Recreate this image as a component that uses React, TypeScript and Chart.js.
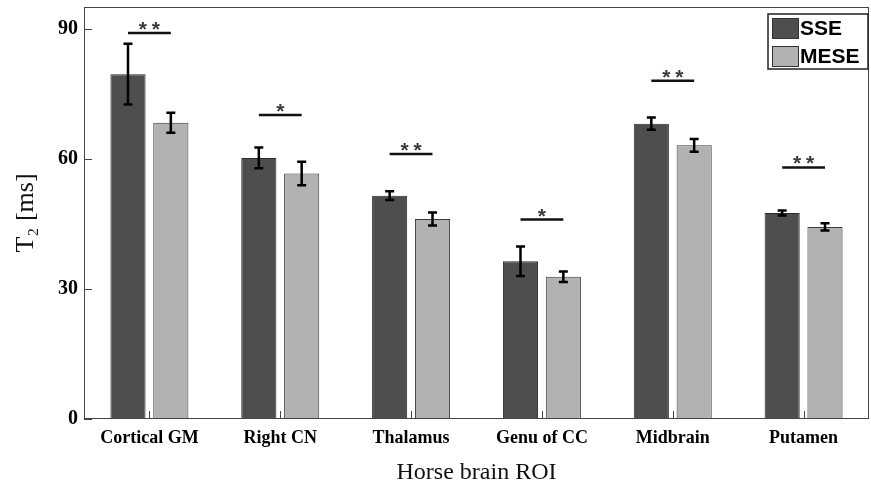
import React, { useEffect, useRef } from "react";
import { Chart, registerables } from "chart.js";

Chart.register(...registerables);

const categories = ["Cortical GM", "Right CN", "Thalamus", "Genu of CC", "Midbrain", "Putamen"];
const sseValues = [79.5, 60.2, 51.5, 36.4, 68.1, 47.5];
const sseErrors = [7.0, 2.4, 1.0, 3.4, 1.4, 0.55];
const meseValues = [68.3, 56.6, 46.1, 32.8, 63.1, 44.3];
const meseErrors = [2.3, 2.7, 1.5, 1.2, 1.45, 0.85];
const sigHeights = [89.0, 70.1, 61.1, 46.0, 78.0, 58.0];
const sigStars = [2, 1, 2, 1, 2, 2];
const yTicks = [0, 30, 60, 90];
const seriesNames = ["SSE", "MESE"];
const seriesColors = ["#4e4e4e", "#b2b2b2"];

const errors = [sseErrors, meseErrors];

const overlayPlugin = {
  id: "overlay",
  afterDatasetsDraw(chart: any) {
    const ctx = chart.ctx;
    const y = chart.scales.y;
    ctx.save();
    // error bars
    chart.data.datasets.forEach((ds: any, d: number) => {
      const meta = chart.getDatasetMeta(d);
      meta.data.forEach((bar: any, i: number) => {
        const v = ds.data[i];
        const e = errors[d][i];
        const yt = y.getPixelForValue(v + e);
        const yb = y.getPixelForValue(v - e);
        ctx.strokeStyle = "#000";
        ctx.lineWidth = 2.5;
        ctx.beginPath();
        ctx.moveTo(bar.x, yt);
        ctx.lineTo(bar.x, yb);
        ctx.moveTo(bar.x - 4.5, yt);
        ctx.lineTo(bar.x + 4.5, yt);
        ctx.moveTo(bar.x - 4.5, yb);
        ctx.lineTo(bar.x + 4.5, yb);
        ctx.stroke();
      });
    });
    // significance lines
    const m0 = chart.getDatasetMeta(0);
    const m1 = chart.getDatasetMeta(1);
    sigHeights.forEach((h, i) => {
      const x1 = m0.data[i].x;
      const x2 = m1.data[i].x;
      const py = y.getPixelForValue(h);
      ctx.strokeStyle = "#111";
      ctx.lineWidth = 2.5;
      ctx.beginPath();
      ctx.moveTo(x1, py);
      ctx.lineTo(x2, py);
      ctx.stroke();
      ctx.fillStyle = "#3a3a3a";
      ctx.font = "bold 21px 'Liberation Sans'";
      ctx.textAlign = "center";
      ctx.textBaseline = "alphabetic";
      const cx = (x1 + x2) / 2;
      const offs = sigStars[i] === 2 ? [-6.5, 6.5] : [0];
      offs.forEach((o) => ctx.fillText("*", cx + o, py + 3));
    });
    ctx.restore();
  },
  afterDraw(chart: any) {
    const ctx = chart.ctx;
    const y = chart.scales.y;
    const x = chart.scales.x;
    const a = chart.chartArea;
    ctx.save();
    // frame
    ctx.strokeStyle = "#444";
    ctx.lineWidth = 1;
    ctx.strokeRect(Math.round(a.left) + 0.5, Math.round(a.top) + 0.5, Math.round(a.right - a.left) - 1, Math.round(a.bottom - a.top) - 1);
    // inward ticks
    ctx.beginPath();
    yTicks.forEach((t) => {
      const py = Math.round(y.getPixelForValue(t)) + 0.5;
      ctx.moveTo(a.left, py);
      ctx.lineTo(a.left + 8, py);
    });
    categories.forEach((_, i) => {
      const px = Math.round(x.getPixelForValue(i)) + 0.5;
      ctx.moveTo(px, a.bottom);
      ctx.lineTo(px, a.bottom - 8);
    });
    ctx.stroke();
    // legend
    const lw = 100;
    const lh = 55;
    const lx = a.right - 1 - lw;
    const ly = a.top + 7;
    ctx.fillStyle = "#fff";
    ctx.fillRect(lx, ly, lw, lh);
    ctx.strokeStyle = "#222";
    ctx.lineWidth = 1.5;
    ctx.strokeRect(lx, ly, lw, lh);
    seriesNames.forEach((name, k) => {
      const sy = ly + 4 + k * 28;
      ctx.fillStyle = seriesColors[k];
      ctx.fillRect(lx + 4, sy, 26, 20);
      ctx.strokeStyle = "#333";
      ctx.lineWidth = 1;
      ctx.strokeRect(lx + 4.5, sy + 0.5, 26, 20);
      ctx.fillStyle = "#000";
      ctx.font = "bold 21px 'Liberation Sans Narrow', 'Liberation Sans'";
      ctx.textAlign = "left";
      ctx.textBaseline = "middle";
      ctx.fillText(name, lx + 32, sy + 11);
    });
    ctx.restore();
  },
};

export default function App() {
  const ref = useRef<HTMLCanvasElement>(null);
  useEffect(() => {
    if (!ref.current) return;
    const chart = new Chart(ref.current, {
      type: "bar",
      data: {
        labels: categories,
        datasets: [
          {
            label: seriesNames[0],
            data: sseValues,
            backgroundColor: seriesColors[0],
            borderColor: "#2a2a2a",
            borderWidth: 1,
            categoryPercentage: 0.655,
            barPercentage: 0.82,
          },
          {
            label: seriesNames[1],
            data: meseValues,
            backgroundColor: seriesColors[1],
            borderColor: "#3a3a3a",
            borderWidth: 1,
            categoryPercentage: 0.655,
            barPercentage: 0.82,
          },
        ],
      },
      options: {
        animation: false,
        responsive: true,
        maintainAspectRatio: false,
        layout: { padding: { left: 0, right: 2, top: 7, bottom: 0 } },
        plugins: {
          legend: { display: false },
          tooltip: { enabled: false },
        },
        scales: {
          x: {
            grid: { display: false, drawTicks: false },
            border: { display: false },
            ticks: {
              color: "#000",
              padding: 9,
              maxRotation: 0,
              font: { family: "'Liberation Serif'", size: 18, weight: "bold" },
            },
            title: {
              display: true,
              text: "Horse brain ROI",
              color: "#111",
              font: { family: "'Liberation Serif'", size: 24, lineHeight: 1.0 },
              padding: { top: 0, bottom: 0 },
            },
            afterFit(scale: any) {
              scale.height = 66;
              scale.paddingLeft = 0;
              scale.paddingRight = 0;
            },
          },
          y: {
            min: 0,
            max: 95,
            grid: { display: false, drawTicks: false },
            border: { display: false },
            afterBuildTicks(scale: any) {
              scale.ticks = yTicks.map((v) => ({ value: v }));
            },
            ticks: {
              color: "#000",
              padding: 6,
              font: { family: "'Liberation Serif'", size: 20, weight: "bold" },
            },
            title: {
              display: true,
              text: "T\u2082 [ms]",
              color: "#111",
              font: { family: "'Liberation Serif'", size: 26, lineHeight: 1.0 },
              padding: { top: 13, bottom: 0 },
            },
            afterFit(scale: any) {
              scale.width = 84;
              scale.paddingTop = 0;
              scale.paddingBottom = 0;
            },
          },
        },
      },
      plugins: [overlayPlugin],
    });
    return () => chart.destroy();
  }, []);
  return (
    <div style={{ position: "absolute", left: 0, top: 0, width: 871, height: 485, background: "#fff" }}>
      <canvas ref={ref} />
    </div>
  );
}
